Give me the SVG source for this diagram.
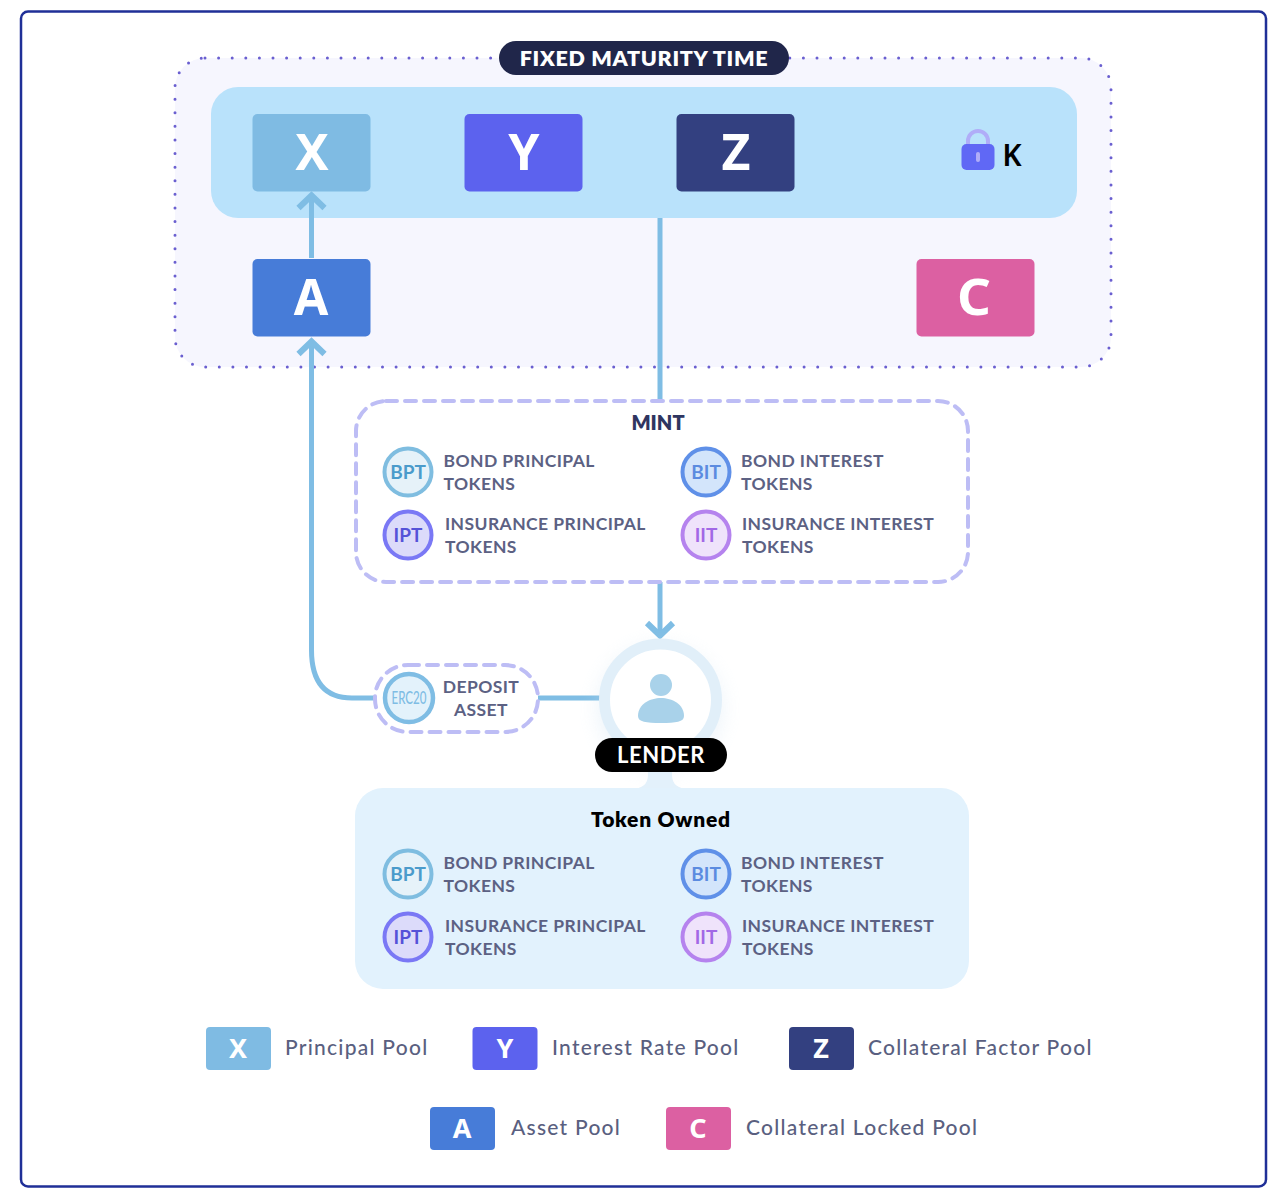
<svg xmlns="http://www.w3.org/2000/svg" width="1270" height="1190" viewBox="0 0 1270 1190">
<style>
text{font-family:"Lato","Noto Sans","Liberation Sans",sans-serif}
.big{font-family:"Noto Sans","Liberation Sans",sans-serif;font-weight:700;font-size:50px;fill:#fff;text-anchor:middle}
.leg{font-family:"Noto Sans","Liberation Sans",sans-serif;font-weight:700;font-size:27px;fill:#fff;text-anchor:middle}
.legt{font-size:21px;fill:#5a5f80;letter-spacing:1.25px;font-weight:500}
.tok{font-size:17.5px;font-weight:700;fill:#5c6183;letter-spacing:.42px}
.lbl{font-size:19px;font-weight:700;text-anchor:middle}
.conn{fill:none;stroke:#7fbde4;stroke-width:5}
.head{fill:none;stroke:#7fbde4;stroke-width:6}
.dash{fill:none;stroke:#bdbdf5;stroke-width:4;stroke-dasharray:11 8;stroke-linecap:round}
</style>
<defs>
<filter id="soft" x="-30%" y="-30%" width="160%" height="160%"><feGaussianBlur stdDeviation="10"/></filter>
<g id="bpt"><circle r="23.5" fill="#e6f2f9" stroke="#7fbde0" stroke-width="4"/><text class="lbl" y="6.500" fill="#4b9bcb">BPT</text></g>
<g id="bit"><circle r="23.5" fill="#d3e5fb" stroke="#5f90e8" stroke-width="4"/><text class="lbl" y="6.500" fill="#5b8be0">BIT</text></g>
<g id="ipt"><circle r="23.5" fill="#dcdbfa" stroke="#7a78f5" stroke-width="4"/><text class="lbl" y="6.500" fill="#5552d8">IPT</text></g>
<g id="iit"><circle r="23.5" fill="#efe3fb" stroke="#b583ee" stroke-width="4"/><text class="lbl" y="6.500" fill="#a268e6">IIT</text></g>
</defs>
<rect width="1270" height="1190" fill="#fff"/>
<rect x="21" y="11.500" width="1245" height="1175" rx="7" fill="#fff" stroke="#1f2f97" stroke-width="2.500"/>

<g id="maturity-zone">
<rect x="175" y="58" width="936" height="309" rx="30" fill="#f6f6fe" stroke="#6a5fd0" stroke-width="3" stroke-linecap="round" stroke-dasharray="0 13.6"/>
<rect x="211" y="87" width="866" height="131" rx="27" fill="#b9e2fb"/>
</g>
<g id="title"><rect x="499" y="41" width="290" height="34" rx="17" fill="#20264a"/>
<text x="644" y="66" font-size="21.500" font-weight="800" fill="#fff" text-anchor="middle" letter-spacing=".7">FIXED MATURITY TIME</text></g>

<g id="connectors">
<path class="conn" d="M311.500 258V197"/>
<path class="head" d="M298.500 208L311.500 195.500L324.500 208"/>
<path class="conn" d="M375 698H352Q311.500 698 311.500 650V342"/>
<path class="head" d="M298.500 354L311.500 341.500L324.500 354"/>
<path class="conn" d="M660 218V400"/>
<path class="conn" d="M660 582V635"/>
<path class="head" d="M647 623L660 635.500L673 623"/>
<path class="conn" d="M538 698H600"/>
</g>

<g id="node-x"><rect x="252.500" y="114" width="118" height="77.500" rx="5" fill="#7fbbe3"/><text class="big" x="312" y="170">X</text></g>
<g id="node-y"><rect x="464.500" y="114" width="118" height="77.500" rx="5" fill="#5c62ee"/><text class="big" x="524" y="170">Y</text></g>
<g id="node-z"><rect x="676.500" y="114" width="118" height="77.500" rx="5" fill="#334080"/><text class="big" x="736" y="170">Z</text></g>
<g id="node-k">
<path d="M968 146V141A10 10 0 0 1 988 141V146" fill="none" stroke="#b0adf8" stroke-width="4"/>
<rect x="961.500" y="144" width="33" height="26" rx="5" fill="#6068f5"/><rect x="976" y="152" width="4" height="10" rx="2" fill="#b0adf8"/>
<text x="1012" y="166" style="font-family:'Noto Sans','Liberation Sans',sans-serif" font-size="30" font-weight="600" fill="#000" text-anchor="middle">K</text></g>
<g id="node-a"><rect x="252.500" y="259" width="118" height="77.500" rx="5" fill="#477cd8"/><text class="big" x="311" y="315">A</text></g>
<g id="node-c"><rect x="916.500" y="259" width="118" height="77.500" rx="5" fill="#dc60a2"/><text class="big" x="974" y="315" textLength="34" lengthAdjust="spacingAndGlyphs">C</text></g>

<g id="mint">
<rect class="dash" x="356" y="401" width="612" height="181" rx="30"/>
<text x="658" y="430" font-size="20" font-weight="800" fill="#2f3560" text-anchor="middle">MINT</text>
<use href="#bpt" x="408" y="472"/><text class="tok" x="443.500" y="466.500">BOND PRINCIPAL</text><text class="tok" x="443.500" y="489.500">TOKENS</text>
<use href="#bit" x="706" y="472"/><text class="tok" x="741" y="466.500">BOND INTEREST</text><text class="tok" x="741" y="489.500">TOKENS</text>
<use href="#ipt" x="408" y="535"/><text class="tok" x="445" y="529.500">INSURANCE PRINCIPAL</text><text class="tok" x="445" y="552.500">TOKENS</text>
<use href="#iit" x="706" y="535"/><text class="tok" x="742" y="529.500">INSURANCE INTEREST</text><text class="tok" x="742" y="552.500">TOKENS</text>
</g>

<g id="deposit">
<rect class="dash" x="375" y="665" width="163" height="67" rx="33"/>
<circle cx="409" cy="698" r="24" fill="#e3f2fb" stroke="#7fbde4" stroke-width="4.500"/>
<text x="409" y="704" font-size="16.500" font-weight="500" fill="#7fbde4" text-anchor="middle" textLength="35" lengthAdjust="spacingAndGlyphs">ERC20</text>
<text class="tok" x="481" y="693" text-anchor="middle">DEPOSIT</text><text class="tok" x="481" y="716" text-anchor="middle">ASSET</text>
</g>

<g id="lender">
<circle cx="660" cy="708" r="62" fill="#c9dff0" opacity=".35" filter="url(#soft)"/>
<path d="M648 770H672V775Q672 789 690 789H630Q648 789 648 775Z" fill="#e3f1fb"/>
<circle cx="660.500" cy="700" r="56" fill="#fff" stroke="#e1eff9" stroke-width="11"/>
<circle cx="661" cy="685" r="11" fill="#a9d2ea"/>
<path d="M638 716C638 704 650 698 661 698C672 698 684 704 684 716C684 722 676 723 661 723C646 723 638 722 638 716Z" fill="#a9d2ea"/>
<rect x="595" y="738" width="132" height="34" rx="17" fill="#000"/>
<text x="661" y="763" font-size="22" font-weight="700" fill="#fff" text-anchor="middle" letter-spacing=".6">LENDER</text>
</g>

<g id="token-owned">
<rect x="355" y="788" width="614" height="201" rx="28" fill="#e2f2fd"/>
<text x="661" y="827" font-size="21" font-weight="800" fill="#000" text-anchor="middle" letter-spacing=".75">Token Owned</text>
<use href="#bpt" x="408" y="874"/><text class="tok" x="443.500" y="868.500">BOND PRINCIPAL</text><text class="tok" x="443.500" y="891.500">TOKENS</text>
<use href="#bit" x="706" y="874"/><text class="tok" x="741" y="868.500">BOND INTEREST</text><text class="tok" x="741" y="891.500">TOKENS</text>
<use href="#ipt" x="408" y="937"/><text class="tok" x="445" y="931.500">INSURANCE PRINCIPAL</text><text class="tok" x="445" y="954.500">TOKENS</text>
<use href="#iit" x="706" y="937"/><text class="tok" x="742" y="931.500">INSURANCE INTEREST</text><text class="tok" x="742" y="954.500">TOKENS</text>
</g>

<g id="legend">
<rect x="206" y="1027" width="65" height="43" rx="4" fill="#7fbbe3"/><text class="leg" x="238" y="1058">X</text><text class="legt" x="285" y="1055">Principal Pool</text>
<rect x="472.500" y="1027" width="65" height="43" rx="4" fill="#5c62ee"/><text class="leg" x="505" y="1058">Y</text><text class="legt" x="552" y="1055">Interest Rate Pool</text>
<rect x="789" y="1027" width="65" height="43" rx="4" fill="#334080"/><text class="leg" x="821" y="1058">Z</text><text class="legt" x="868" y="1055">Collateral Factor Pool</text>
<rect x="430" y="1107" width="65" height="43" rx="4" fill="#477cd8"/><text class="leg" x="462" y="1138">A</text><text class="legt" x="511" y="1135">Asset Pool</text>
<rect x="666" y="1107" width="65" height="43" rx="4" fill="#dc60a2"/><text class="leg" x="698" y="1138">C</text><text class="legt" x="746" y="1135">Collateral Locked Pool</text>
</g>
</svg>
